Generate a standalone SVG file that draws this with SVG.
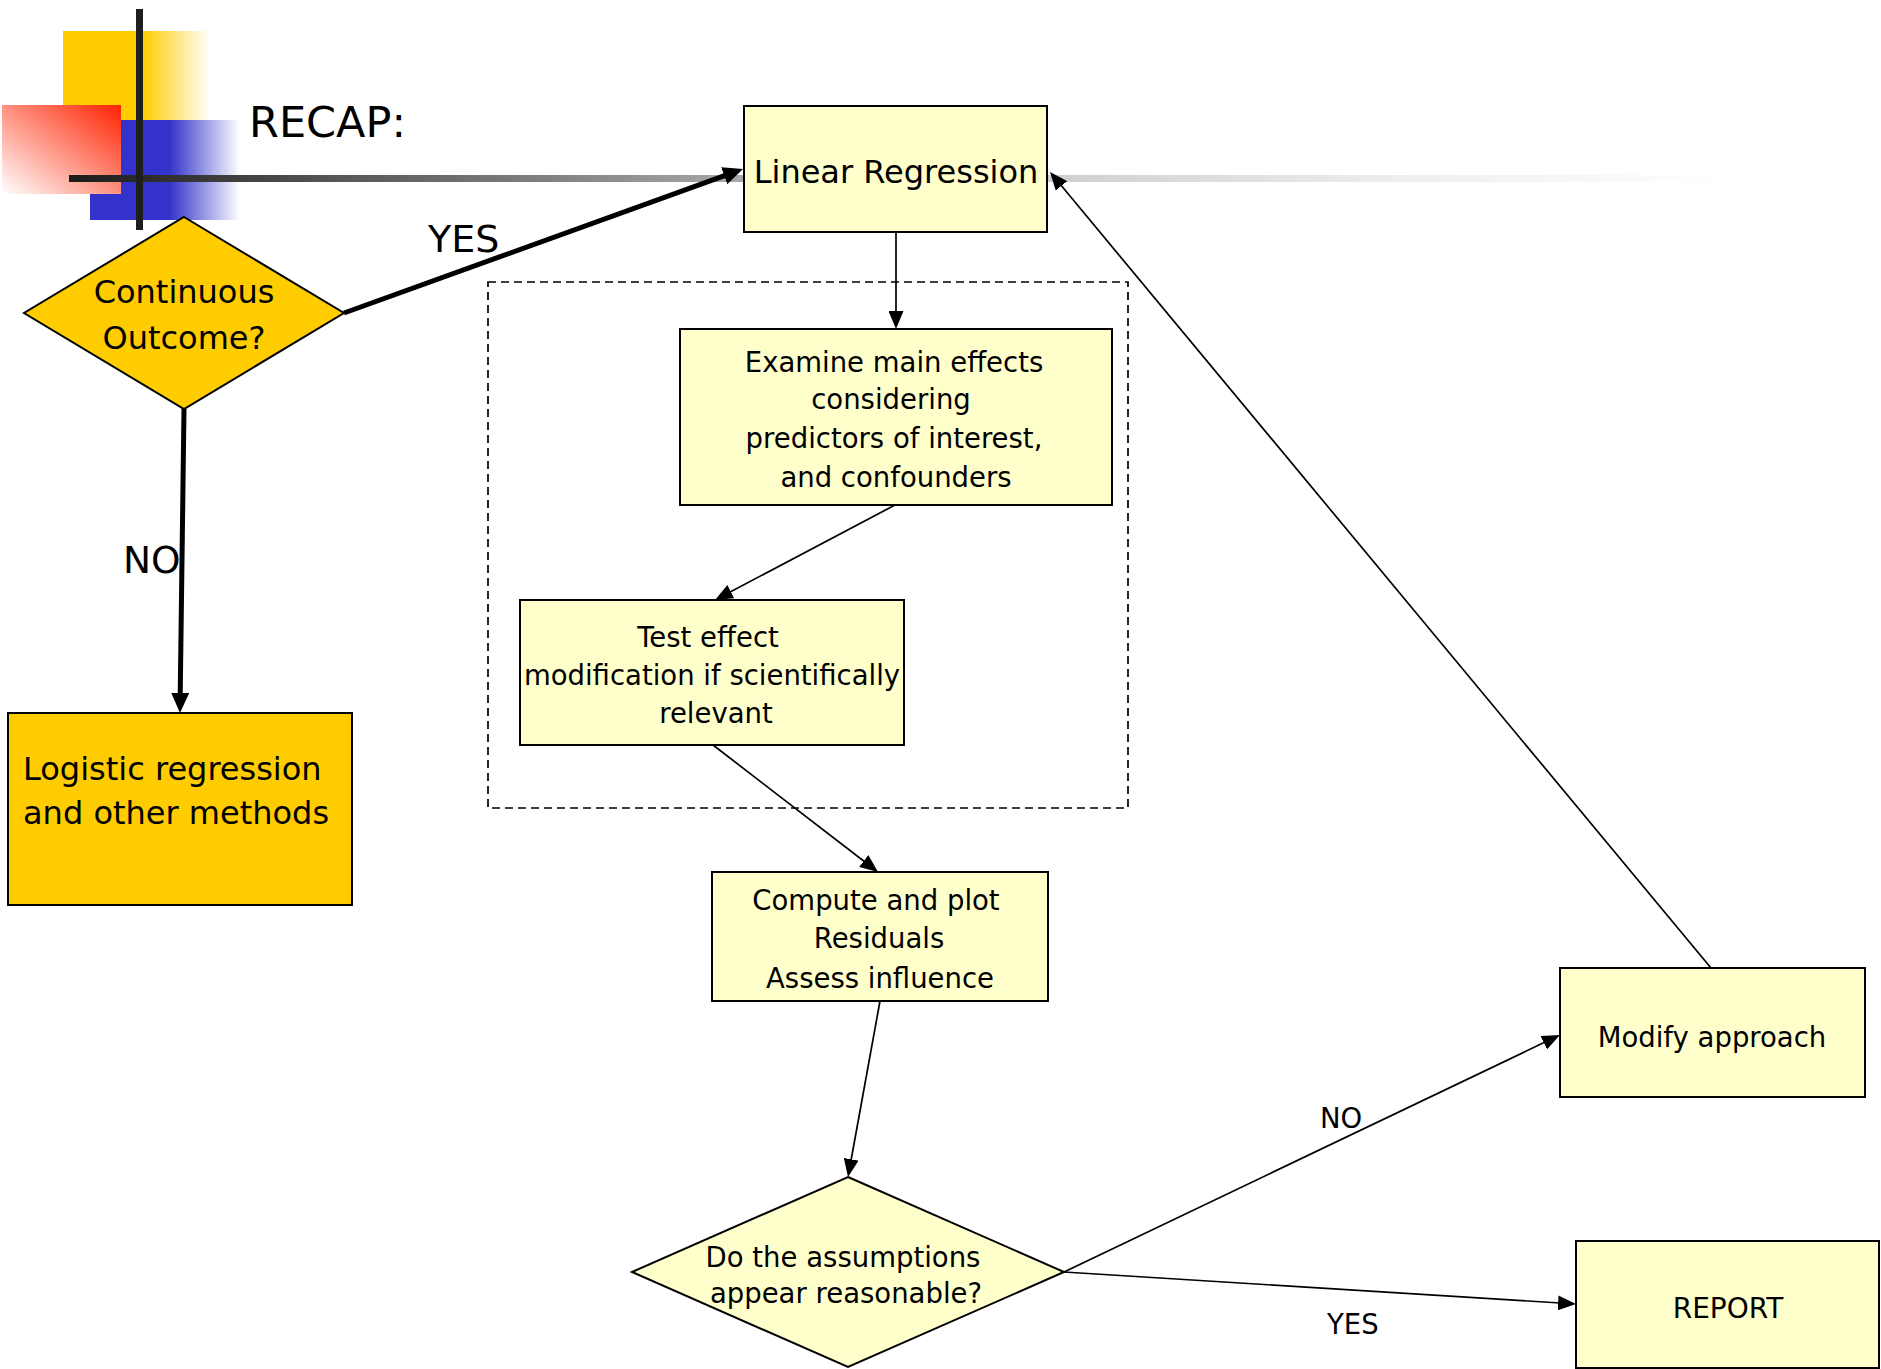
<svg xmlns="http://www.w3.org/2000/svg" width="1881" height="1369" viewBox="0 0 1881 1369">
<style>
text{font-family:"DejaVu Sans","Liberation Sans",sans-serif;fill:#000}
.box{fill:#FFFFCC;stroke:#000;stroke-width:2}
.gold{fill:#FFCC00;stroke:#000;stroke-width:2}
.s{font-size:27.5px}
.m{font-size:32px}
.c{text-anchor:middle}
.thin{fill:none;stroke:#000;stroke-width:1.7}
.thick{fill:none;stroke:#000;stroke-width:5}
</style>
<defs>
<linearGradient id="gY" x1="0" y1="0" x2="1" y2="0">
<stop offset="0" stop-color="#FFCC00"/><stop offset="0.54" stop-color="#FFCC00"/><stop offset="1" stop-color="#FFFFFF"/>
</linearGradient>
<linearGradient id="gB" x1="0" y1="0" x2="1" y2="0">
<stop offset="0" stop-color="#3333CC"/><stop offset="0.53" stop-color="#3333CC"/><stop offset="1" stop-color="#FFFFFF"/>
</linearGradient>
<linearGradient id="gR" x1="1" y1="0" x2="0" y2="1">
<stop offset="0" stop-color="#FF2200"/><stop offset="1" stop-color="#FFFFFF"/>
</linearGradient>
<linearGradient id="gL" gradientUnits="userSpaceOnUse" x1="69" y1="0" x2="1730" y2="0">
<stop offset="0" stop-color="#1a1a1a"/><stop offset="0.157" stop-color="#555555"/><stop offset="0.404" stop-color="#a8a8a8"/><stop offset="0.59" stop-color="#cfcfcf"/><stop offset="0.8" stop-color="#eeeeee"/><stop offset="1" stop-color="#ffffff"/>
</linearGradient>
<marker id="aThin" markerUnits="userSpaceOnUse" markerWidth="18" markerHeight="15" refX="2" refY="7.5" orient="auto">
<path d="M0,0 L18,7.5 L0,15 z" fill="#000"/>
</marker>
<marker id="aThick" markerUnits="userSpaceOnUse" markerWidth="20" markerHeight="18" refX="2" refY="9" orient="auto">
<path d="M0,0 L20,9 L0,18 z" fill="#000"/>
</marker>
</defs>

<g id="decoration">
<rect x="63" y="31" width="147" height="89" fill="url(#gY)"/>
<rect x="90" y="120" width="150" height="100" fill="url(#gB)"/>
<rect x="2" y="105" width="119" height="89" fill="url(#gR)"/>
<rect x="69" y="175" width="1661" height="7" fill="url(#gL)"/>
<rect x="136" y="9" width="7" height="221" fill="#1e1e1e"/>
<text x="249" y="137" font-size="43">RECAP:</text>
</g>

<g id="group-box">
<rect x="488" y="282" width="640" height="526" fill="none" stroke="#000" stroke-width="1.7" stroke-dasharray="8,5"/>
</g>

<g id="connectors">
<path class="thick" d="M344,313 L726.07,175.11" marker-end="url(#aThick)"/>
<path class="thick" d="M184,409 L180.2,695" marker-end="url(#aThick)"/>
<path class="thin" d="M896,232 L896,313" marker-end="url(#aThin)"/>
<path class="thin" d="M895,505 L729.15,592.53" marker-end="url(#aThin)"/>
<path class="thin" d="M713,745 L865.32,862.24" marker-end="url(#aThin)"/>
<path class="thin" d="M880,1001 L850.86,1161.26" marker-end="url(#aThin)"/>
<path class="thin" d="M1064,1272 L1545.54,1041.85" marker-end="url(#aThin)"/>
<path class="thin" d="M1064,1272 L1560.03,1303" marker-end="url(#aThin)"/>
<path class="thin" d="M1711,968 L1060.22,184.3" marker-end="url(#aThin)"/>
<text x="428" y="252" font-size="38">YES</text>
<text x="123" y="573" font-size="37.5">NO</text>
<text x="1320" y="1128" class="s">NO</text>
<text x="1327" y="1334" class="s">YES</text>
</g>

<g id="continuous-outcome">
<polygon class="gold" points="184,217 344,313 184,409 24,313"/>
<text class="m c" x="184" y="303">Continuous</text>
<text class="m c" x="184" y="349">Outcome?</text>
</g>

<g id="linear-regression">
<rect class="box" x="744" y="106" width="303" height="126"/>
<text class="m c" x="896" y="183">Linear Regression</text>
</g>

<g id="logistic-regression">
<rect class="gold" x="8" y="713" width="344" height="192"/>
<text class="m" x="23" y="780">Logistic regression</text>
<text class="m" x="23" y="824">and other methods</text>
</g>

<g id="examine-main-effects">
<rect class="box" x="680" y="329" width="432" height="176"/>
<text class="s c" x="894" y="372">Examine main effects</text>
<text class="s c" x="891" y="409">considering</text>
<text class="s c" x="894" y="448">predictors of interest,</text>
<text class="s c" x="896" y="487">and confounders</text>
</g>

<g id="test-effect-modification">
<rect class="box" x="520" y="600" width="384" height="145"/>
<text class="s c" x="708" y="647">Test effect</text>
<text class="s c" x="712" y="685">modification if scientifically</text>
<text class="s c" x="716" y="723">relevant</text>
</g>

<g id="compute-residuals">
<rect class="box" x="712" y="872" width="336" height="129"/>
<text class="s c" x="876" y="910">Compute and plot</text>
<text class="s c" x="879" y="948">Residuals</text>
<text class="s c" x="880" y="988">Assess influence</text>
</g>

<g id="assumptions-decision">
<polygon class="box" points="848,1177 1064,1272 848,1367 632,1272"/>
<text class="s c" x="843" y="1267">Do the assumptions</text>
<text class="s c" x="846" y="1303">appear reasonable?</text>
</g>

<g id="modify-approach">
<rect class="box" x="1560" y="968" width="305" height="129"/>
<text class="s c" x="1712" y="1047">Modify approach</text>
</g>

<g id="report">
<rect class="box" x="1576" y="1241" width="303" height="127"/>
<text class="c" x="1728" y="1318" font-size="28">REPORT</text>
</g>
</svg>
